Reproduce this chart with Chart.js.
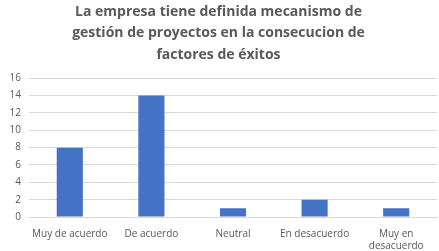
<!DOCTYPE html>
<html>
<head>
<meta charset="utf-8">
<script src="https://cdn.jsdelivr.net/npm/chart.js@4/dist/chart.umd.min.js"></script>
<style>
  html, body { margin: 0; padding: 0; background: #ffffff; }
  #wrap { width: 439px; height: 251px; }
</style>
</head>
<body>
<div id="wrap"><canvas id="chart" width="439" height="251"></canvas></div>
<script>
const categories = ["Muy de acuerdo", "De acuerdo", "Neutral", "En desacuerdo", ["Muy en", "desacuerdo"]];
const respuestas = [8, 14, 1, 2, 1];
const titleLines = [
    "La empresa tiene definida mecanismo de",
    "gestión de proyectos en la consecucion de",
    "factores de éxitos",
];

const TEXT_COLOR = "#595959";
const GRID_COLOR = "#d9d9d9";
const BAR_COLOR = "#4472c4";

new Chart(document.getElementById("chart"), {
    type: "bar",
    data: {
        labels: categories,
        datasets: [
            {
                data: respuestas,
                backgroundColor: BAR_COLOR,
                borderWidth: 0,
                categoryPercentage: 1,
                barPercentage: 0.32,
            },
        ],
    },
    options: {
        responsive: false,
        animation: false,
        layout: { padding: { top: 1, right: 2, left: 0, bottom: 0 } },
        plugins: {
            legend: { display: false },
            tooltip: { enabled: false },
            title: {
                display: true,
                text: titleLines,
                color: TEXT_COLOR,
                font: { family: "Open Sans", size: 14, weight: "bold", lineHeight: 1.53 },
                padding: { top: 0, bottom: 13 },
            },
        },
        scales: {
            x: {
                grid: { display: false },
                border: { display: true, color: GRID_COLOR },
                ticks: {
                    color: TEXT_COLOR,
                    font: { family: "Open Sans", size: 10 },
                    maxRotation: 0,
                    autoSkip: false,
                    padding: 3,
                },
                afterFit: (scale) => { scale.height = 34; },
            },
            y: {
                min: 0,
                max: 16,
                ticks: {
                    stepSize: 2,
                    color: TEXT_COLOR,
                    font: { family: "Open Sans", size: 10 },
                    padding: 8,
                },
                grid: { color: GRID_COLOR, drawTicks: false },
                border: { display: false },
                afterFit: (scale) => { scale.width = 29; },
            },
        },
    },
});
</script>
</body>
</html>
